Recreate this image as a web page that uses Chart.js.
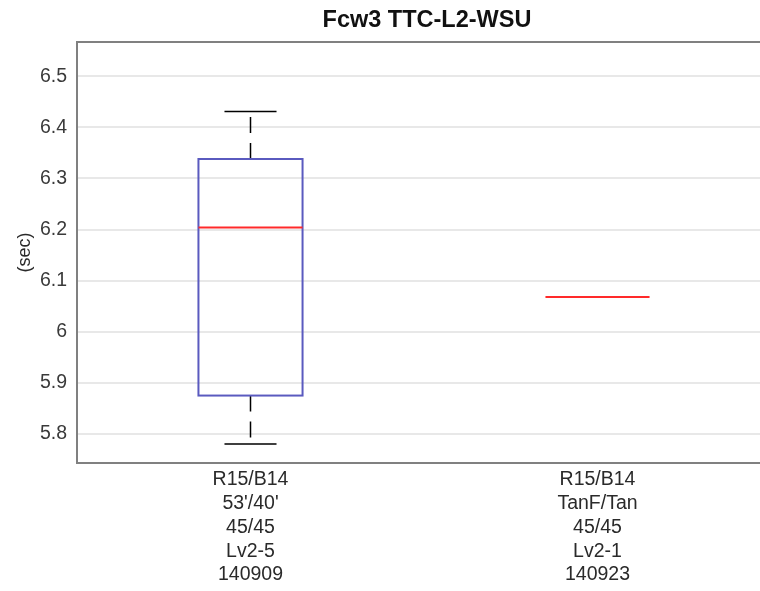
<!DOCTYPE html>
<html><head><meta charset="utf-8">
<script src="https://cdn.jsdelivr.net/npm/chart.js@4/dist/chart.umd.min.js"></script>
<style>html,body{margin:0;padding:0;background:#fff;overflow:hidden;width:760px;height:591px}canvas{display:block}</style>
</head><body>
<canvas id="c" width="800" height="591"></canvas>
<script>
const categories = [
  ["R15/B14","53'/40'","45/45","Lv2-5","140909"],
  ["R15/B14","TanF/Tan","45/45","Lv2-1","140923"]
];
const whiskerLow  = [5.780, null];
const q1          = [5.875, null];
const median      = [6.204, 6.068];
const q3          = [6.338, null];
const whiskerHigh = [6.431, null];
const yTicks = [5.8, 5.9, 6.0, 6.1, 6.2, 6.3, 6.4, 6.5];
const yMin = 5.743, yMax = 6.567;

const FONT = 'Liberation Sans, Arial, sans-serif';

const boxPlugin = {
  id: 'boxdraw',
  afterLayout(chart) {
    if (chart.titleBlock) {
      chart.titleBlock.left = chart.chartArea.left;
      chart.titleBlock.right = chart.chartArea.right + 6;
    }
  },
  afterDatasetsDraw(chart) {
    const ctx = chart.ctx, x = chart.scales.x, y = chart.scales.y;
    const catW = x.getPixelForValue(1) - x.getPixelForValue(0);
    const half = catW * 0.15;
    ctx.save();
    for (let i = 0; i < categories.length; i++) {
      const cx = x.getPixelForValue(i);
      if (whiskerHigh[i] != null) {
        ctx.strokeStyle = '#000'; ctx.lineWidth = 1.5;
        ctx.setLineDash([16, 10]);
        ctx.beginPath();
        ctx.moveTo(cx, y.getPixelForValue(q3[i])); ctx.lineTo(cx, y.getPixelForValue(whiskerHigh[i]));
        ctx.moveTo(cx, y.getPixelForValue(q1[i])); ctx.lineTo(cx, y.getPixelForValue(whiskerLow[i]));
        ctx.stroke();
        ctx.setLineDash([]);
        ctx.beginPath();
        const cw = half / 2;
        ctx.moveTo(cx - cw, y.getPixelForValue(whiskerHigh[i])); ctx.lineTo(cx + cw, y.getPixelForValue(whiskerHigh[i]));
        ctx.moveTo(cx - cw, y.getPixelForValue(whiskerLow[i])); ctx.lineTo(cx + cw, y.getPixelForValue(whiskerLow[i]));
        ctx.stroke();
      }
      if (q1[i] != null) {
        ctx.strokeStyle = '#5a5abf'; ctx.lineWidth = 2;
        const yt = y.getPixelForValue(q3[i]), yb = y.getPixelForValue(q1[i]);
        ctx.strokeRect(cx - half, yt, 2 * half, yb - yt);
      }
      if (median[i] != null) {
        ctx.strokeStyle = '#ff2a2a'; ctx.lineWidth = 2;
        const ym = y.getPixelForValue(median[i]);
        ctx.beginPath(); ctx.moveTo(cx - half, ym); ctx.lineTo(cx + half, ym); ctx.stroke();
      }
    }
    const a = chart.chartArea;
    ctx.strokeStyle = '#808080'; ctx.lineWidth = 2;
    ctx.beginPath();
    ctx.moveTo(a.left, a.bottom); ctx.lineTo(a.left, a.top); ctx.lineTo(a.right, a.top); ctx.lineTo(a.right, a.bottom); ctx.closePath();
    ctx.stroke();
    ctx.restore();
  }
};

new Chart(document.getElementById('c'), {
  type: 'bar',
  data: {
    labels: categories,
    datasets: [{ data: median.map(() => null), backgroundColor: 'rgba(0,0,0,0)' }]
  },
  options: {
    responsive: false,
    animation: false,
    layout: { padding: { top: 0, right: 29, left: 0, bottom: 0 } },
    plugins: {
      legend: { display: false },
      tooltip: { enabled: false },
      title: {
        display: true, text: 'Fcw3 TTC-L2-WSU', color: '#111',
        font: { family: FONT, size: 23.5, weight: 'bold', lineHeight: 1.2 },
        padding: { top: 6, bottom: 7.8 }
      }
    },
    scales: {
      x: {
        afterFit: (s) => { s.height = 128; },
        grid: { display: false, drawTicks: false },
        border: { display: false },
        ticks: {
          color: '#2a2a2a', padding: 5, maxRotation: 0, minRotation: 0, autoSkip: false,
          font: { family: FONT, size: 19.5, lineHeight: 1.218 }
        }
      },
      y: {
        min: yMin, max: yMax,
        afterFit: (s) => { s.width = 77; },
        afterBuildTicks: (s) => { s.ticks = yTicks.map(v => ({ value: v })); },
        grid: { color: '#e8e8e8', lineWidth: 2, drawTicks: false },
        border: { display: false },
        ticks: {
          color: '#3a3a3a', padding: 10,
          font: { family: FONT, size: 19.5 },
          callback: (v) => String(Math.round(v * 10) / 10)
        },
        title: {
          display: true, text: '(sec)', color: '#2a2a2a',
          font: { family: FONT, size: 18, lineHeight: 1.2 },
          padding: { top: 14, bottom: 0 }
        }
      }
    }
  },
  plugins: [boxPlugin]
});
</script>
</body></html>
